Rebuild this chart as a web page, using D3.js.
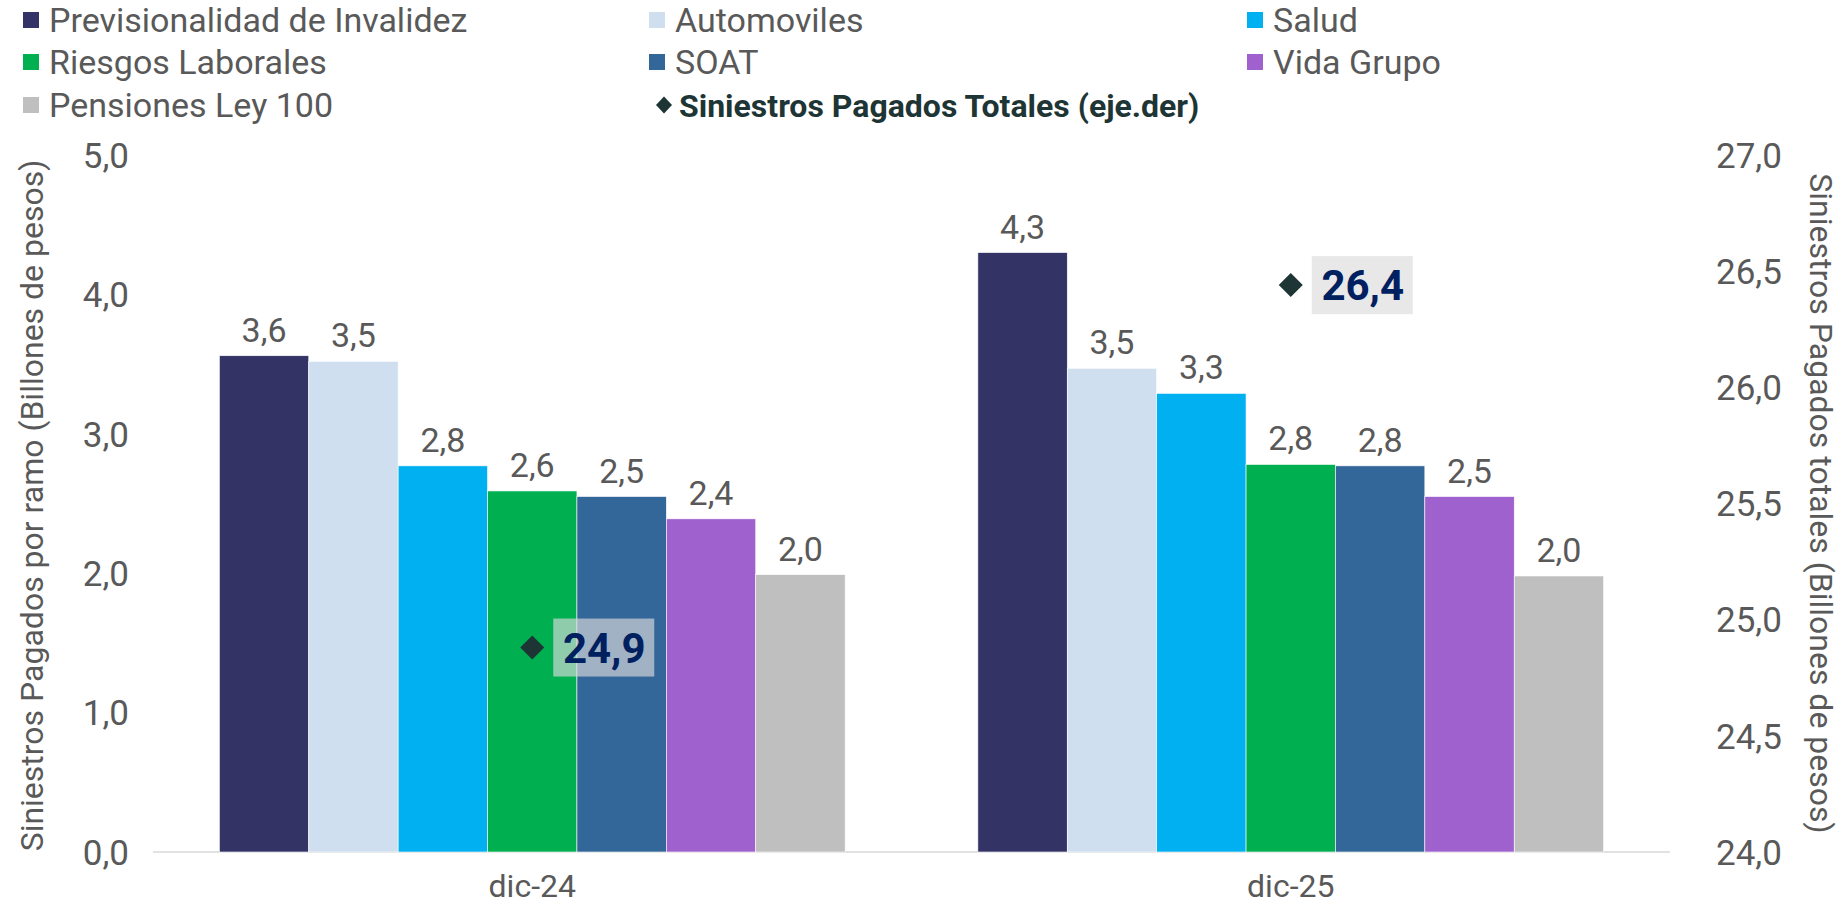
<!DOCTYPE html>
<html>
<head>
<meta charset="utf-8">
<script src="https://cdn.jsdelivr.net/npm/d3@7"></script>
<style>
  body { margin: 0; background: #fff; }
  svg text { font-family: Roboto, "Noto Sans", sans-serif; }
</style>
</head>
<body>
<div class="chart"></div>
<script>
var width = 1844, height = 906;
var margin = {top: 155, bottom: 54, left: 153, right: 174};

// data
var periods = ["dic-24", "dic-25"];
var ramos = ["Previsionalidad de Invalidez", "Automoviles", "Salud", "Riesgos Laborales", "SOAT", "Vida Grupo", "Pensiones Ley 100"];
var ramoColors = ["#333366", "#D0DFEF", "#00B0F0", "#00B050", "#336699", "#9E61CE", "#BFBFBF"];
var valores24 = [3.56, 3.52, 2.77, 2.59, 2.55, 2.39, 1.99];
var valores25 = [4.30, 3.47, 3.29, 2.78, 2.77, 2.55, 1.98];
var totales = [24.88, 26.44];
var leftTicks = [0, 1, 2, 3, 4, 5];
var rightTicks = [24, 24.5, 25, 25.5, 26, 26.5, 27];

var seriesByPeriod = [valores24, valores25];
var fmt = function(v) { return d3.format(".1f")(v).replace(".", ","); };

var svg = d3.select(".chart").append("svg")
  .attr("width", width)
  .attr("height", height);

var x0 = d3.scaleBand()
  .domain(periods)
  .range([margin.left, width - margin.right])
  .paddingInner(0.175)
  .paddingOuter(0.0875);

var x1 = d3.scaleBand()
  .domain(ramos)
  .range([0, x0.bandwidth()]);

var y = d3.scaleLinear().domain([0, 5]).range([height - margin.bottom, margin.top]);
var y2 = d3.scaleLinear().domain([24, 27]).range([height - margin.bottom, margin.top]);

// baseline
svg.append("line")
  .attr("x1", margin.left).attr("x2", width - margin.right)
  .attr("y1", y(0)).attr("y2", y(0))
  .attr("stroke", "#D9D9D9").attr("stroke-width", 1.5);

// left axis
var leftAxis = svg.append("g")
  .attr("transform", "translate(" + (margin.left - 21) + ",0)")
  .call(d3.axisLeft(y).tickValues(leftTicks).tickFormat(fmt).tickSize(0));
leftAxis.select(".domain").remove();
leftAxis.selectAll("text").attr("font-size", 35).attr("fill", "#595959").attr("dy", "0.35em");

// right axis
var rightAxis = svg.append("g")
  .attr("transform", "translate(" + (width - margin.right + 43) + ",0)")
  .call(d3.axisRight(y2).tickValues(rightTicks).tickFormat(fmt).tickSize(0));
rightAxis.select(".domain").remove();
rightAxis.selectAll("text").attr("font-size", 35).attr("fill", "#595959").attr("dy", "0.35em");

// category labels
svg.selectAll(".cat")
  .data(periods)
  .enter().append("text")
  .attr("class", "cat")
  .attr("x", function(d) { return x0(d) + x0.bandwidth() / 2; })
  .attr("y", 897)
  .attr("text-anchor", "middle")
  .attr("font-size", 32)
  .attr("fill", "#595959")
  .text(function(d) { return d; });

// axis titles
svg.append("text")
  .attr("transform", "translate(32," + ((y(0) + y(5)) / 2 + 2) + ") rotate(-90)")
  .attr("text-anchor", "middle")
  .attr("dominant-baseline", "central")
  .attr("font-size", 32)
  .attr("fill", "#595959")
  .text("Siniestros Pagados por ramo (Billones de pesos)");

svg.append("text")
  .attr("transform", "translate(1821," + ((y(0) + y(5)) / 2) + ") rotate(90)")
  .attr("text-anchor", "middle")
  .attr("dominant-baseline", "central")
  .attr("font-size", 32)
  .attr("fill", "#595959")
  .text("Siniestros Pagados totales (Billones de pesos)");

// bars
var groups = svg.selectAll(".group")
  .data(periods)
  .enter().append("g")
  .attr("class", "group")
  .attr("transform", function(d) { return "translate(" + x0(d) + ",0)"; });

groups.each(function(p, gi) {
  var vals = seriesByPeriod[gi];
  var g = d3.select(this);
  g.selectAll("rect")
    .data(vals)
    .enter().append("rect")
    .attr("x", function(d, i) { return x1(ramos[i]); })
    .attr("width", x1.bandwidth())
    .attr("y", function(d) { return y(d); })
    .attr("height", function(d) { return y(0) - y(d); })
    .attr("fill", function(d, i) { return ramoColors[i]; })
    .attr("stroke", "#fff").attr("stroke-width", 0.6);
  g.selectAll(".lbl")
    .data(vals)
    .enter().append("text")
    .attr("class", "lbl")
    .attr("x", function(d, i) { return x1(ramos[i]) + x1.bandwidth() / 2; })
    .attr("y", function(d) { return y(d) - 14; })
    .attr("text-anchor", "middle")
    .attr("font-size", 34)
    .attr("fill", "#595959")
    .text(function(d) { return fmt(d); });
});

// totals (right axis)
var diamond = "M0,-12L12,0L0,12L-12,0Z";
periods.forEach(function(p, i) {
  var cx = x0(p) + x0.bandwidth() / 2, cy = y2(totales[i]);
  svg.append("rect")
    .attr("x", cx + 21).attr("y", cy - 29)
    .attr("width", 101).attr("height", 58)
    .attr("fill", "rgba(220,220,220,0.65)");
  svg.append("path")
    .attr("d", diamond)
    .attr("transform", "translate(" + cx + "," + cy + ")")
    .attr("fill", "#1E3535");
  svg.append("text")
    .attr("x", cx + 72).attr("y", cy)
    .attr("text-anchor", "middle")
    .attr("dy", "0.36em")
    .attr("font-size", 42)
    .attr("font-weight", "bold")
    .attr("fill", "#002060")
    .text(fmt(totales[i]));
});

// legend
var legendItems = ramos.map(function(r, i) { return {name: r, color: ramoColors[i], type: "bar"}; });
legendItems.push({name: "Siniestros Pagados Totales (eje.der)", color: "#1E3535", type: "diamond"});
var colX = [23, 649, 1247], rowY = [20, 62, 105];

var legend = svg.selectAll(".legend")
  .data(legendItems)
  .enter().append("g")
  .attr("class", "legend")
  .attr("transform", function(d, i) { return "translate(" + colX[i % 3] + "," + rowY[Math.floor(i / 3)] + ")"; });

legend.filter(function(d) { return d.type == "bar"; })
  .append("rect")
  .attr("x", 0).attr("y", -8).attr("width", 16).attr("height", 16)
  .attr("fill", function(d) { return d.color; });

legend.filter(function(d) { return d.type == "diamond"; })
  .append("path")
  .attr("d", "M0,-8.5L8,0L0,8.5L-8,0Z")
  .attr("transform", "translate(15,0)")
  .attr("fill", function(d) { return d.color; });

legend.append("text")
  .attr("x", function(d) { return d.type == "bar" ? 26 : 30; })
  .attr("dy", "0.36em")
  .attr("font-size", function(d) { return d.type == "bar" ? 34 : 32; })
  .attr("fill", function(d) { return d.type == "bar" ? "#595959" : "#1E3535"; })
  .attr("font-weight", function(d) { return d.type == "bar" ? "normal" : "bold"; })
  .text(function(d) { return d.name; });
</script>
</body>
</html>
